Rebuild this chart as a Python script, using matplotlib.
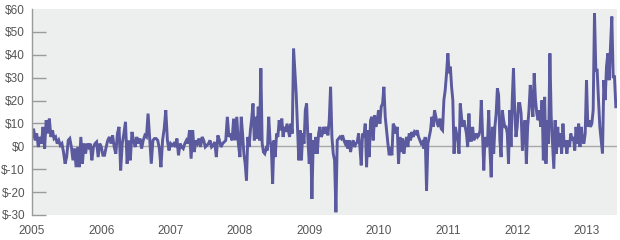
import numpy as np
import matplotlib
matplotlib.use("Agg")
import matplotlib.pyplot as plt
from matplotlib import font_manager

# Weekly values ($), grouped by year
v2005 = [4.1, 7.7, 2.6, 5.6, -0.3, 4.1, 1.2, 8.5, -1.0, 11.4, 5.6, 12.1, 4.1, 7.0, 3.4, 4.1,
         1.2, 2.6, 0.4, 1.2, -2.5, -7.6, -4.7, 2.6, 3.4, -0.3, -6.1, -1.0, -9.1, -0.3, -9.1,
         4.1, -7.6, 1.2, -3.2, 1.2, -0.3, 1.2, -6.1, -0.3, 1.2, 1.9, -4.7, 1.2]
v2006 = [-0.3, -3.9, -3.9, -0.3, 2.6, 4.1, 1.2, 4.8, -0.3, -3.2, 5.6, 8.5, -10.5, 1.2, 5.6,
         10.7, -7.6, 2.6, -6.1, 6.3, 2.6, -0.3, 4.1, 1.2, 3.4, -1.0, 2.6, 4.8, 4.1, 14.3, 3.4,
         -7.6, 2.6, 3.4, 3.4, 2.6, -1.0, -9.1, 2.6, 7.7, 15.8, 2.6, -1.8]
v2007 = [1.2, 0.4, 1.2, -0.3, 3.4, -3.9, 1.2, -0.3, -1.0, 1.2, 2.6, 1.2, 7.0, -5.4, 7.0, -2.5,
         2.6, 1.2, 3.4, -0.3, 4.1, 2.6, -0.3, 0.4, 1.2, 2.6, -0.3, 0.4, 1.9, -4.7, 4.8, 2.6,
         -0.3, 1.2, 1.9, 2.6, 12.9, 4.1, 5.6, 2.6, 12.1, 2.6, 12.9, 1.2]
v2008 = [-4.7, 12.9, 5.6, -3.2, -7.6, -14.9, 4.1, -0.3, 7.0, 12.1, 18.7, 2.6, 12.9, 3.4, 17.3,
         2.6, 34.1, 1.2, -2.5, -3.2, -1.0, -1.8, 12.9, 2.6, -0.3, -16.4, 2.6, -4.7, 5.6, 4.1,
         11.4, 7.0, 12.1, 4.1, 8.5, 6.3, 9.9, 7.0, 4.1, 9.9, 5.6, 42.8, 33.3, 23.1, 8.5, -6.1,
         7.0, -6.1, 5.6, 1.2, 15.8, 18.7, 2.6]
v2009 = [-7.6, 5.6, -23.0, 2.6, -3.2, 4.1, -3.2, 5.6, 8.5, 4.1, 5.6, 8.5, 5.6, 8.5, 4.8, 11.4,
         26.0, 4.1, -3.2, -6.1, -28.8, 2.6, 3.4, 4.1, 3.4, 4.8, 2.6, 1.2, 2.6, -1.0, 2.6, -2.5,
         1.2, 2.6, -0.3, 1.2, 1.9, 5.6, -0.3, -8.3, 5.6, 4.1, 9.9, -9.1, 7.0, -4.7, 11.4, 12.9,
         2.6, 13.6, 8.5, 11.4]
v2010 = [15.8, 9.9, 17.3, 18.7, 26.0, 12.9, 7.0, 1.2, -3.9, -0.3, -3.9, 9.9, 8.5, 5.6, 8.5,
         -7.6, 4.1, -2.5, 3.4, -3.2, 1.2, 4.1, -0.3, 5.6, 2.6, 6.3, 4.1, 6.3, 5.6, 7.0, 4.1,
         2.6, 1.2, 1.9, -1.0, 4.1, -19.3, 1.2, 4.1, 7.0, 12.9, 8.5, 15.8, 12.9, 9.9, 8.5, 12.1,
         7.7, 7.0, 20.2, 24.6, 31.9]
v2011 = [40.6, 31.9, 34.8, 26.0, 20.2, -3.2, 8.5, 5.6, 2.6, -3.2, 18.7, 12.9, 8.5, 11.4, 8.5,
         5.6, -0.3, 14.3, 2.6, 2.6, 8.5, 2.6, 4.1, 5.6, 4.1, 4.8, 7.0, 20.2, 5.6, -10.5, 4.1,
         -0.3, 1.2, 15.8, -1.8, -13.5, 8.5, -3.2, 8.5, 14.3, 25.3, 22.4, 2.6, -4.7, 15.8, 11.4,
         8.5, 8.5, 5.6, -7.6, 15.8, -0.3, 20.2, 34.1, 15.8, 4.1]
v2012 = [8.5, 18.7, 18.7, 14.3, -1.8, 8.5, 11.4, -7.6, 8.5, 15.8, 26.8, 20.2, 12.9, 31.9, 20.2,
         14.3, 11.4, 15.8, 8.5, 20.2, -6.1, 21.6, -7.6, 11.4, 1.2, 40.6, 12.9, 1.2, -9.8, 11.4,
         -3.2, 8.5, -0.3, 5.6, -3.2, 9.9, -0.3, 2.6, -3.2, 2.6, -0.3, 5.6, 2.6, 4.1, -1.8, 8.5,
         1.2, 9.9, -0.3, 8.5, 2.6, 1.2, 5.6]
v2013 = [28.9, 8.5, 11.4, 8.5, 9.9, 15.8, 58.2, 33.3, 33.3, 20.2, 8.5, 2.6, -3.2, 28.9, 20.2,
         34.8, 40.6, 28.9, 43.6, 56.7, 30.4, 30.4, 17.3]

years = [2005, 2006, 2007, 2008, 2009, 2010, 2011, 2012, 2013]
series = [v2005, v2006, v2007, v2008, v2009, v2010, v2011, v2012, v2013]
ytick_vals = [-30, -20, -10, 0, 10, 20, 30, 40, 50, 60]
ytick_labels = ["$-30", "$-20", "$-10", "$0", "$10", "$20", "$30", "$40", "$50", "$60"]
year_labels = [str(y) for y in years]

# Build time axis: full years spread evenly, partial final year at weekly steps
xs, ys = [], []
for yr, vals in zip(years, series):
    n = len(vals)
    step = 1.0 / n if yr != 2013 else 1.0 / 52
    for i, v in enumerate(vals):
        xs.append(yr + i * step)
        ys.append(v)
xs = np.array(xs)
ys = np.array(ys)

names = {f.name for f in font_manager.fontManager.ttflist}
fam = "Liberation Sans Narrow" if "Liberation Sans Narrow" in names else "Liberation Sans"
plt.rcParams["font.family"] = [fam, "DejaVu Sans"]

fig = plt.figure(figsize=(6.2, 2.4), dpi=100)
ax = fig.add_axes([32 / 620, 1 - 215 / 240, (617 - 32) / 620, (215 - 9) / 240])
ax.set_facecolor("#EDEEEE")

ax.axhline(0, color="#A8A8A8", lw=1.0, zorder=1)
ax.plot(xs, ys, color="#5B5A9F", lw=2.1, solid_joinstyle="miter", zorder=2)

ax.set_xlim(2005, 2013.44)
ax.set_ylim(-30, 60)

ax.set_yticks(ytick_vals)
ax.set_yticklabels(ytick_labels)
ax.set_xticks(years)
ax.set_xticklabels(year_labels)

for s in ["top", "right", "bottom"]:
    ax.spines[s].set_visible(False)
ax.spines["left"].set_color("#9A9A9A")
ax.spines["left"].set_linewidth(1.0)

ax.tick_params(axis="y", direction="in", length=10, width=1.0, color="#9A9A9A",
               labelsize=8.5, labelcolor="#555555", pad=5)
ax.tick_params(axis="x", length=0, labelsize=8.5, labelcolor="#555555", pad=7)
ax.yaxis.get_major_ticks()[-1].tick1line.set_visible(False)

fig.savefig("out.png", dpi=100, facecolor="white")
